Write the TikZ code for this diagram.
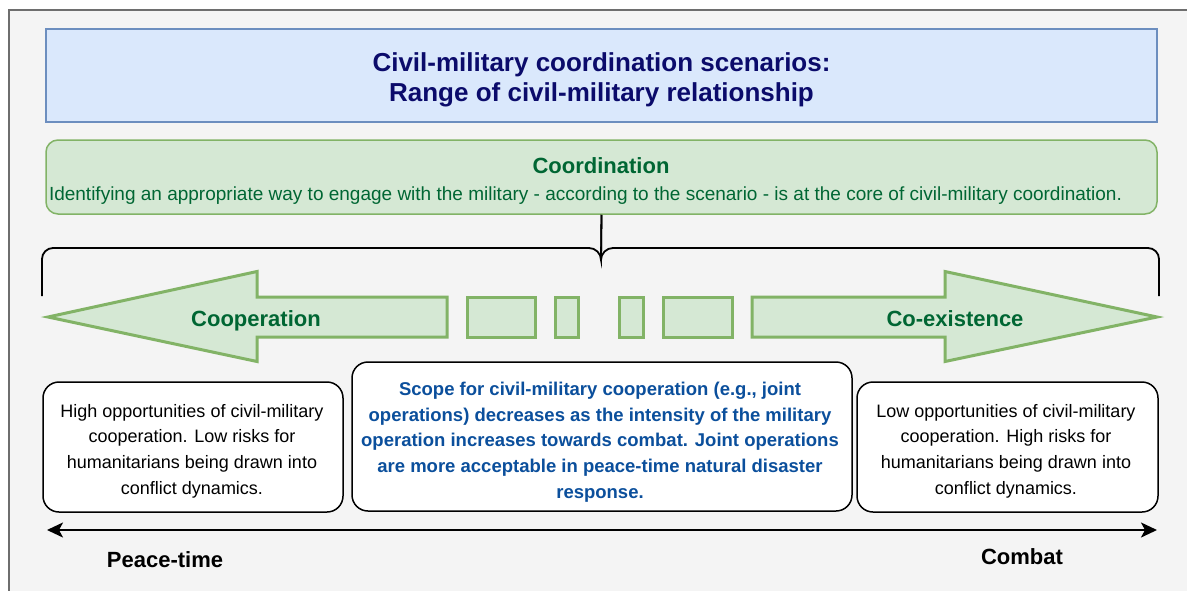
\documentclass[tikz,border=0pt]{standalone}
\usepackage{fontspec}
\setmainfont{Liberation Sans}
\usetikzlibrary{arrows.meta}
\definecolor{bgray}{HTML}{F4F4F4}
\definecolor{framegray}{HTML}{6E6E6E}
\definecolor{bluefill}{HTML}{DAE8FC}
\definecolor{bluestroke}{HTML}{6C8EBF}
\definecolor{greenfill}{HTML}{D5E8D4}
\definecolor{greenstroke}{HTML}{82B366}
\definecolor{titlenavy}{HTML}{0B0B6B}
\definecolor{darkgreen}{HTML}{006633}
\definecolor{midblue}{HTML}{0B4F9C}
\tikzset{
  bluebox/.style={draw=bluestroke, fill=bluefill, line width=1.5pt, inner sep=0pt},
  greenbox/.style={draw=greenstroke, fill=greenfill, line width=1.5pt, rounded corners=12pt, inner sep=0pt},
  greenshape/.style={draw=greenstroke, fill=greenfill, line width=3pt},
  textbox/.style={draw=black, fill=white, line width=1.5pt, rounded corners=16pt, inner sep=0pt},
  boxtext/.style={inner sep=0pt, align=center, font=\fontsize{18}{25.7}\selectfont},
  bracepath/.style={draw=black, line width=1.8pt},
  axis/.style={draw=black, line width=2pt, {Stealth[length=16pt,width=15pt,inset=4pt]}-{Stealth[length=16pt,width=15pt,inset=4pt]}},
  lbl/.style={inner sep=0pt, font=\fontsize{22}{26}\selectfont\bfseries}
}
\begin{document}
\begin{tikzpicture}[x=1pt,y=-1pt]
\useasboundingbox (0,0) rectangle (1187,590);
\fill[white] (0,0) rectangle (1187,590);
\draw[framegray, fill=bgray, line width=2pt] (9,10) rectangle (1200,605);

% title
\node[bluebox, minimum width=1111pt, minimum height=93pt] (title) at (601.5,75.5) {};
\node[inner sep=0pt, align=center, text=titlenavy, font=\fontsize{26}{30}\selectfont\bfseries] (titletext) at (601.5,80) {Civil-military coordination scenarios:\\Range of civil-military relationship};

% coordination
\node[greenbox, minimum width=1111pt, minimum height=74pt] (coord) at (601.5,177) {};
\node[lbl, text=darkgreen] (coordtitle) at (601,166) {Coordination};
\node[inner sep=0pt, text=darkgreen, font=\fontsize{19}{22}\selectfont] (coorddesc) at (585.5,196) {Identifying an appropriate way to engage with the military - according to the scenario - is at the core of civil-military coordination.};

% brace
\coordinate (bl) at (42,296);
\coordinate (br) at (1159,296);
\path[bracepath] (bl) -- (42,259) arc[start angle=180, end angle=90, radius=11pt] -- (589,248) arc[start angle=90, end angle=0, radius=12pt] -- (coord.south);
\path[bracepath] (br) -- (1159,259) arc[start angle=0, end angle=90, radius=11pt] -- (613,248) arc[start angle=90, end angle=180, radius=12pt] -- (coord.south);

% big arrows
\draw[greenshape] (48,317) -- (257,271.5) -- (257,297) -- (447,297) -- (447,337) -- (257,337) -- (257,361.5) -- cycle;
\draw[greenshape] (1157,317) -- (945,271.5) -- (945,297) -- (752,297) -- (752,337) -- (945,337) -- (945,361.5) -- cycle;
\draw[greenshape] (467,297) rectangle (535,337);
\draw[greenshape] (555,297) rectangle (578,337);
\draw[greenshape] (619,297) rectangle (643,337);
\draw[greenshape] (663,297) rectangle (732,337);
\node[lbl, text=darkgreen] (coop) at (256,320.5) {Cooperation};
\node[lbl, text=darkgreen] (coex) at (955,318.5) {Co-existence};

% text boxes
\node[textbox, minimum width=300pt, minimum height=130pt] (lbox) at (193,447) {};
\node[boxtext] (lboxtext) at (192,451) {High opportunities of civil-military\\cooperation. Low risks for\\humanitarians being drawn into\\conflict dynamics.};
\node[textbox, minimum width=500pt, minimum height=149pt] (mbox) at (602,436.5) {};
\node[boxtext, text=midblue, font=\fontsize{18.5}{25.7}\selectfont\bfseries] (mboxtext) at (600,442) {Scope for civil-military cooperation (e.g., joint\\operations) decreases as the intensity of the military\\operation increases towards combat. Joint operations\\are more acceptable in peace-time natural disaster\\response.};
\node[textbox, minimum width=301pt, minimum height=130pt] (rbox) at (1007.5,447) {};
\node[boxtext] (rboxtext) at (1006,451) {Low opportunities of civil-military\\cooperation. High risks for\\humanitarians being drawn into\\conflict dynamics.};

% axis
\coordinate (axl) at (47,530);
\coordinate (axr) at (1157,530);
\draw[axis] (axl) -- (axr);
\node[lbl, text=black] (peace) at (165,560) {Peace-time};
\node[lbl, text=black] (combat) at (1022,557) {Combat};
\end{tikzpicture}
\end{document}
